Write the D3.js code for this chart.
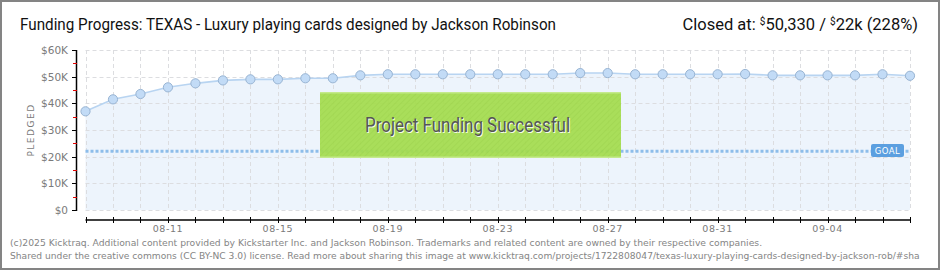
<!DOCTYPE html>
<html>
<head>
<meta charset="utf-8">
<script src="https://cdn.jsdelivr.net/npm/d3@7"></script>
<style>
  html, body { margin: 0; padding: 0; background: #fff; }
  svg { display: block; }
</style>
</head>
<body>
<svg id="chart" width="940" height="270"></svg>
<script>
const dates = ["2025-08-08","2025-08-09","2025-08-10","2025-08-11","2025-08-12","2025-08-13","2025-08-14","2025-08-15",
  "2025-08-16","2025-08-17","2025-08-18","2025-08-19","2025-08-20","2025-08-21","2025-08-22","2025-08-23",
  "2025-08-24","2025-08-25","2025-08-26","2025-08-27","2025-08-28","2025-08-29","2025-08-30","2025-08-31",
  "2025-09-01","2025-09-02","2025-09-03","2025-09-04","2025-09-05","2025-09-06","2025-09-07"];
const pledged = [37000, 41500, 43500, 46000, 47500, 48600, 49000, 49000, 49400, 49400, 50500, 50900,
  50900, 50900, 50900, 50900, 50900, 50900, 51350, 51350, 50900, 50900, 50900, 50900, 51000, 50500,
  50500, 50500, 50500, 50900, 50330];
const goal = 22000;
const yTicks = [0, 10000, 20000, 30000, 40000, 50000, 60000];
const yTickLabels = ["$0", "$10K", "$20K", "$30K", "$40K", "$50K", "$60K"];
const yMinorTicks = [5000, 15000, 25000, 35000, 45000, 55000];
const xTickLabels = ["08-11", "08-15", "08-19", "08-23", "08-27", "08-31", "09-04"];
const titleText = "Funding Progress: TEXAS - Luxury playing cards designed by Jackson Robinson";
const footer1 = "(c)2025 Kicktraq. Additional content provided by Kickstarter Inc. and Jackson Robinson. Trademarks and related content are owned by their respective companies.";
const footer2 = "Shared under the creative commons (CC BY-NC 3.0) license. Read more about sharing this image at www.kicktraq.com/projects/1722808047/texas-luxury-playing-cards-designed-by-jackson-rob/#sha";

const parse = d3.timeParse("%Y-%m-%d");
const data = dates.map((d, i) => ({ date: parse(d), value: pledged[i] }));

const svg = d3.select("#chart");
const x = d3.scaleTime().domain([parse(dates[0]), parse(dates[dates.length - 1])]).range([85.5, 910]);
const y = d3.scaleLinear().domain([0, 60000]).range([210, 50]);

// outer border
svg.append("rect").attr("x", 1).attr("y", 1).attr("width", 938).attr("height", 268)
  .attr("fill", "#fff").attr("stroke", "#848484").attr("stroke-width", 2);

// title
svg.append("text").attr("x", 20).attr("y", 30).text(titleText)
  .attr("font-family", "Roboto, 'Open Sans', sans-serif").attr("font-size", 16.5).attr("fill", "#111")
  .attr("textLength", 536).attr("lengthAdjust", "spacingAndGlyphs");

// closed at
const closed = svg.append("text").attr("x", 918).attr("y", 30).attr("text-anchor", "end")
  .attr("font-family", "Roboto, 'Open Sans', sans-serif").attr("font-size", 16.5).attr("fill", "#111");
closed.append("tspan").text("Closed at:  ");
closed.append("tspan").text("$").attr("font-size", 10).attr("dy", -5);
closed.append("tspan").text("50,330 /  ").attr("dy", 5);
closed.append("tspan").text("$").attr("font-size", 10).attr("dy", -5);
closed.append("tspan").text("22k (228%)").attr("dy", 5);

// grid
const grid = svg.append("g").attr("stroke", "#dcdde0").attr("stroke-dasharray", "4,3").attr("stroke-width", 1);
// area
const area = d3.area().x(d => x(d.date)).y0(y(0)).y1(d => y(d.value));
svg.insert("path", "g").datum(data).attr("d", area).attr("fill", "#edf4fc");
grid.selectAll("line.v").data(data).join("line")
  .attr("x1", d => Math.round(x(d.date)) + 0.5).attr("x2", d => Math.round(x(d.date)) + 0.5)
  .attr("y1", y(60000)).attr("y2", y(0));
grid.selectAll("line.h").data(yTicks).join("line").attr("class", "h")
  .attr("x1", x.range()[0]).attr("x2", x.range()[1])
  .attr("y1", d => Math.round(y(d)) + 0.5).attr("y2", d => Math.round(y(d)) + 0.5);

// goal line
svg.append("line").attr("x1", x.range()[0]).attr("x2", x.range()[1])
  .attr("y1", y(goal)).attr("y2", y(goal))
  .attr("stroke", "#8dbdea").attr("stroke-width", 3).attr("stroke-dasharray", "3,2");

// line
const line = d3.line().x(d => x(d.date)).y(d => y(d.value));
svg.append("path").datum(data).attr("d", line).attr("fill", "none")
  .attr("stroke", "#b8d4f1").attr("stroke-width", 1.6);

// points
svg.append("g").selectAll("circle").data(data).join("circle")
  .attr("cx", d => x(d.date)).attr("cy", d => y(d.value)).attr("r", 4.6)
  .attr("fill", "#c2dbf6").attr("stroke", "#98b4d3").attr("stroke-width", 1);

// success box
const defs = svg.append("defs");
const pat = defs.append("pattern").attr("id", "stripes").attr("width", 4).attr("height", 4)
  .attr("patternUnits", "userSpaceOnUse").attr("patternTransform", "rotate(45)");
pat.append("rect").attr("width", 4).attr("height", 4).attr("fill", "#a4dc4e");
pat.append("line").attr("x1", 0).attr("y1", 0).attr("x2", 0).attr("y2", 4)
  .attr("stroke", "#9bd444").attr("stroke-width", 1.5);
svg.append("rect").attr("x", 320).attr("y", 92).attr("width", 301).attr("height", 66)
  .attr("fill", "url(#stripes)").attr("opacity", 0.93);
svg.append("rect").attr("x", 320).attr("y", 92).attr("width", 301).attr("height", 1.5).attr("fill", "#c4ea8c");
svg.append("rect").attr("x", 320).attr("y", 156.5).attr("width", 301).attr("height", 1.5).attr("fill", "#c4ea8c");
const succ = "Project Funding Successful";
svg.append("text").attr("x", 366).attr("y", 133).text(succ)
  .attr("font-family", "Roboto, 'Open Sans', sans-serif").attr("font-size", 19.5).attr("fill", "#f4fbe8")
  .attr("textLength", 205).attr("lengthAdjust", "spacingAndGlyphs");
svg.append("text").attr("x", 365).attr("y", 132).text(succ)
  .attr("font-family", "Roboto, 'Open Sans', sans-serif").attr("font-size", 19.5).attr("fill", "#555")
  .attr("textLength", 205).attr("lengthAdjust", "spacingAndGlyphs");

// goal label
svg.append("rect").attr("x", 871).attr("y", 144).attr("width", 33).attr("height", 13).attr("rx", 2)
  .attr("fill", "#5b9fe0");
svg.append("text").attr("x", 887.5).attr("y", 154).attr("text-anchor", "middle").text("GOAL")
  .attr("font-family", "'DejaVu Sans', sans-serif").attr("font-size", 8.5).attr("fill", "#fff")
  .attr("letter-spacing", 0.5);

// y axis
const ya = svg.append("g");
ya.append("line").attr("x1", 76.5).attr("x2", 76.5).attr("y1", 50).attr("y2", 211)
  .attr("stroke", "#000").attr("stroke-width", 1.5);
ya.selectAll("line.maj").data(yTicks).join("line").attr("class", "maj")
  .attr("x1", 72).attr("x2", 77).attr("y1", d => Math.round(y(d)) + 0.5).attr("y2", d => Math.round(y(d)) + 0.5)
  .attr("stroke", "#000").attr("stroke-width", 1);
ya.selectAll("line.min").data(yMinorTicks).join("line").attr("class", "min")
  .attr("x1", 73).attr("x2", 77).attr("y1", d => Math.round(y(d)) + 0.5).attr("y2", d => Math.round(y(d)) + 0.5)
  .attr("stroke", "#e00000").attr("stroke-width", 1);
ya.selectAll("text").data(yTicks).join("text")
  .attr("x", 68).attr("y", d => y(d) + 4).attr("text-anchor", "end")
  .text((d, i) => yTickLabels[i])
  .attr("font-family", "'DejaVu Sans', sans-serif").attr("font-size", 10.5).attr("fill", "#7a7a7a");
svg.append("text").attr("transform", "translate(34,130) rotate(-90)").attr("text-anchor", "middle")
  .text("PLEDGED").attr("font-family", "'DejaVu Sans', sans-serif").attr("font-size", 9)
  .attr("letter-spacing", 1.5).attr("fill", "#7a7a7a");

// x axis
const xa = svg.append("g");
xa.append("line").attr("x1", x.range()[0]).attr("x2", x.range()[1]).attr("y1", 220).attr("y2", 220)
  .attr("stroke", "#000").attr("stroke-width", 1.5);
xa.selectAll("line.t").data(data).join("line").attr("class", "t")
  .attr("x1", d => Math.round(x(d.date)) + 0.5).attr("x2", d => Math.round(x(d.date)) + 0.5)
  .attr("y1", 217).attr("y2", 223).attr("stroke", "#000").attr("stroke-width", 1);
const fmt = d3.timeFormat("%m-%d");
xa.selectAll("text").data(data.filter(d => xTickLabels.includes(fmt(d.date)))).join("text")
  .attr("x", d => x(d.date)).attr("y", 232).attr("text-anchor", "middle")
  .text(d => fmt(d.date))
  .attr("font-family", "'DejaVu Sans', sans-serif").attr("font-size", 9.5).attr("letter-spacing", 0.6)
  .attr("fill", "#7a7a7a");

// footer: fit width via font-size (no glyph stretching)
function fitText(str, yPos, width) {
  const t = svg.append("text").attr("x", 10).attr("y", yPos).text(str)
    .attr("font-family", "'DejaVu Sans', sans-serif").attr("font-size", 10).attr("fill", "#858585");
  const nat = t.node().getComputedTextLength();
  t.attr("font-size", (10 * width / nat).toFixed(3));
  return t;
}
fitText(footer1, 246, 753);
fitText(footer2, 259, 910);
</script>
</body>
</html>
